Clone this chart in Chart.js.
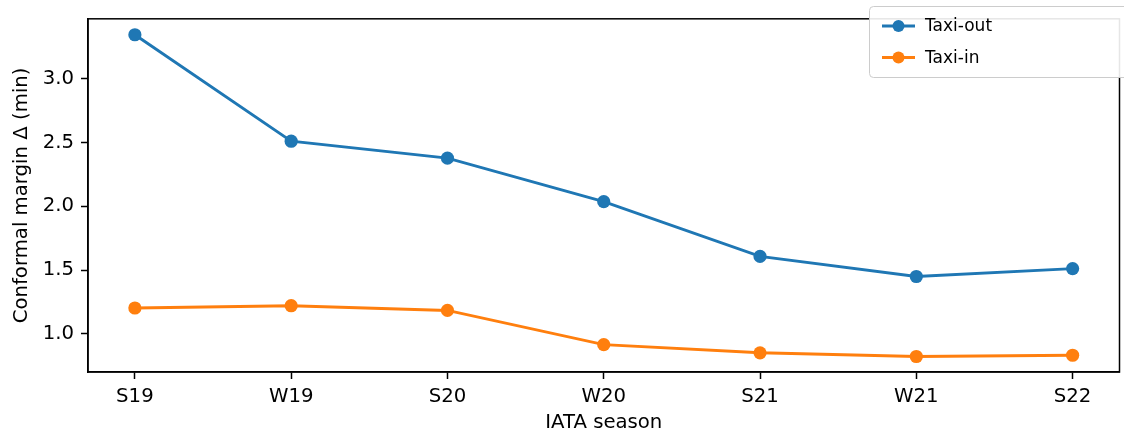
<!DOCTYPE html>
<html>
<head>
<meta charset="utf-8">
<script src="https://cdn.jsdelivr.net/npm/chart.js@4/dist/chart.umd.min.js"></script>
<style>
  html, body { margin: 0; padding: 0; background: #fff; }
  #wrap { width: 1124px; height: 435px; position: relative; }
</style>
</head>
<body>
<div id="wrap"><canvas id="c" width="1124" height="435"></canvas></div>
<script>
const seasons = ["S19", "W19", "S20", "W20", "S21", "W21", "S22"];
const taxiOut = [3.344, 2.51, 2.377, 2.036, 1.607, 1.45, 1.512];
const taxiIn = [1.203, 1.221, 1.184, 0.916, 0.852, 0.823, 0.833];
const yTicks = [1.0, 1.5, 2.0, 2.5, 3.0];
const seriesNames = ["Taxi-out", "Taxi-in"];
const seriesColors = ["#1f77b4", "#ff7f0e"];

const FONT = "'DejaVu Sans', sans-serif";
const FS = 19.7;

const framePlugin = {
  id: 'frame',
  afterDraw(chart) {
    const {ctx, chartArea: a} = chart;
    ctx.save();
    ctx.strokeStyle = '#000';
    ctx.lineWidth = 1.5;
    ctx.strokeRect(a.left, a.top, a.right - a.left, a.bottom - a.top);
    ctx.restore();
  }
};

const legendPlugin = {
  id: 'customLegend',
  afterDraw(chart) {
    const ctx = chart.ctx;
    const x0 = 869.5, y0 = 6.5, w = 270, h = 71;
    ctx.save();
    ctx.fillStyle = 'rgba(255,255,255,0.9)';
    ctx.strokeStyle = '#cccccc';
    ctx.lineWidth = 1;
    ctx.beginPath();
    const r = 4;
    ctx.moveTo(x0 + r, y0);
    ctx.lineTo(x0 + w - r, y0);
    ctx.arcTo(x0 + w, y0, x0 + w, y0 + r, r);
    ctx.lineTo(x0 + w, y0 + h - r);
    ctx.arcTo(x0 + w, y0 + h, x0 + w - r, y0 + h, r);
    ctx.lineTo(x0 + r, y0 + h);
    ctx.arcTo(x0, y0 + h, x0, y0 + h - r, r);
    ctx.lineTo(x0, y0 + r);
    ctx.arcTo(x0, y0, x0 + r, y0, r);
    ctx.closePath();
    ctx.fill();
    ctx.stroke();
    const rows = [26, 57.5];
    chart.data.datasets.forEach((ds, i) => {
      const y = rows[i];
      ctx.strokeStyle = ds.borderColor;
      ctx.lineWidth = 2.8;
      ctx.beginPath();
      ctx.moveTo(882, y);
      ctx.lineTo(915, y);
      ctx.stroke();
      ctx.fillStyle = ds.borderColor;
      ctx.beginPath();
      ctx.arc(898.5, y, 6, 0, Math.PI * 2);
      ctx.fill();
      ctx.fillStyle = '#000';
      ctx.font = "17px " + FONT;
      ctx.textBaseline = 'middle';
      ctx.textAlign = 'left';
      ctx.fillText(ds.label, 925, y + 1);
    });
    ctx.restore();
  }
};

const datasets = [taxiOut, taxiIn].map((vals, i) => ({
  label: seriesNames[i],
  data: vals.map((v, k) => ({x: k, y: v})),
  borderColor: seriesColors[i],
  backgroundColor: seriesColors[i],
  pointBackgroundColor: seriesColors[i],
  pointBorderWidth: 0,
  pointRadius: 6.6,
  pointHoverRadius: 6.6,
  borderWidth: 2.9,
  tension: 0,
  fill: false
}));

new Chart(document.getElementById('c'), {
  type: 'line',
  data: { datasets },
  plugins: [framePlugin, legendPlugin],
  options: {
    responsive: false,
    animation: false,
    devicePixelRatio: 1,
    layout: { autoPadding: false, padding: { left: 0, right: 4.5, top: 18, bottom: 0 } },
    plugins: { legend: { display: false }, tooltip: { enabled: false } },
    scales: {
      x: {
        type: 'linear',
        min: -0.3,
        max: 6.3,
        afterBuildTicks: (s) => { s.ticks = seasons.map((_, i) => ({ value: i })); },
        afterFit: (s) => { s.height = 63; },
        ticks: {
          autoSkip: false,
          maxRotation: 0,
          padding: 6,
          color: '#000',
          font: { family: FONT, size: FS },
          callback: (v) => seasons[v] ?? ''
        },
        grid: { drawOnChartArea: false, drawTicks: true, tickLength: 7, tickColor: '#000', tickWidth: 1.5 },
        border: { display: true, color: '#000', width: 1.5 },
        title: { display: true, text: 'IATA season', color: '#000', font: { family: FONT, size: FS }, padding: { top: 0, bottom: 0 } }
      },
      y: {
        type: 'linear',
        min: 0.7016,
        max: 3.469,
        afterBuildTicks: (s) => { s.ticks = yTicks.map(v => ({ value: v })); },
        afterFit: (s) => { s.width = 88; },
        ticks: {
          padding: 7,
          color: '#000',
          font: { family: FONT, size: FS },
          callback: (v) => Number(v).toFixed(1)
        },
        grid: { drawOnChartArea: false, drawTicks: true, tickLength: 7, tickColor: '#000', tickWidth: 1.5 },
        border: { display: true, color: '#000', width: 1.5 },
        title: { display: true, text: 'Conformal margin Δ (min)', color: '#000', font: { family: FONT, size: FS }, padding: { top: 10, bottom: 0 } }
      }
    }
  }
});
</script>
</body>
</html>
